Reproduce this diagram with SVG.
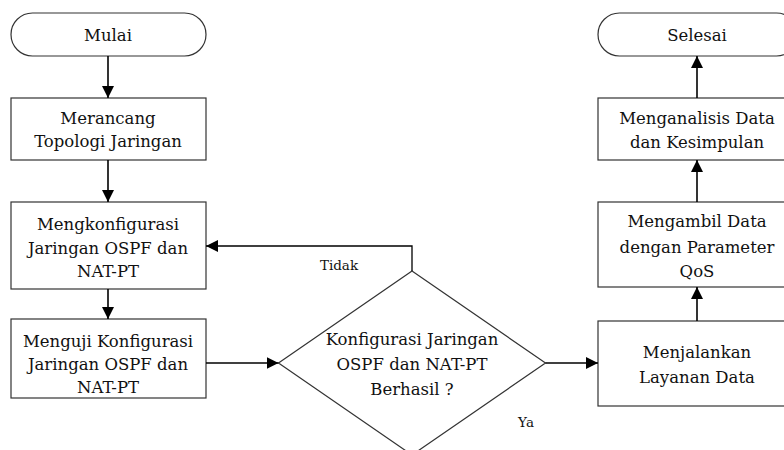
<svg xmlns="http://www.w3.org/2000/svg" width="784" height="450" viewBox="0 0 784 450" font-family="DejaVu Serif, serif">
<style>
.box{fill:#fff;stroke:#333;stroke-width:1.2}
.t{font-size:16.5px;fill:#111;text-anchor:middle}
.l{font-size:13.5px;fill:#111;text-anchor:middle}
.c{fill:none;stroke:#000;stroke-width:1.6}
</style>
<defs>
<marker id="a" markerUnits="userSpaceOnUse" markerWidth="12" markerHeight="12" viewBox="0 0 12 12" refX="12" refY="6" orient="auto">
<path d="M0,0 L12,6 L0,12 z" fill="#000"/>
</marker>
</defs>
<rect width="784" height="450" fill="#fff"/>
<g id="mulai"><rect class="box" x="11" y="13" width="195" height="43" rx="21.5"/><text class="t" x="108" y="41">Mulai</text></g>
<g id="merancang"><rect class="box" x="11" y="98" width="195" height="62"/><text class="t" x="108" y="124">Merancang</text><text class="t" x="108" y="147">Topologi Jaringan</text></g>
<g id="mengkonfigurasi"><rect class="box" x="11" y="202" width="195" height="87"/><text class="t" x="108" y="230">Mengkonfigurasi</text><text class="t" x="108" y="253.5">Jaringan OSPF dan</text><text class="t" x="108" y="277">NAT-PT</text></g>
<g id="menguji"><rect class="box" x="11" y="319" width="195" height="79"/><text class="t" x="108" y="347">Menguji Konfigurasi</text><text class="t" x="108" y="370">Jaringan OSPF dan</text><text class="t" x="108" y="393">NAT-PT</text></g>
<g id="keputusan"><polygon class="box" points="412,271 545.5,363 412,455 278.5,363"/><text class="t" x="412" y="345">Konfigurasi Jaringan</text><text class="t" x="412" y="370">OSPF dan NAT-PT</text><text class="t" x="412" y="395">Berhasil ?</text></g>
<g id="selesai"><rect class="box" x="598" y="13" width="200" height="43" rx="21.5"/><text class="t" x="697" y="41">Selesai</text></g>
<g id="menganalisis"><rect class="box" x="598" y="98" width="200" height="62"/><text class="t" x="697" y="124">Menganalisis Data</text><text class="t" x="697" y="148">dan Kesimpulan</text></g>
<g id="mengambil"><rect class="box" x="598" y="202" width="200" height="85"/><text class="t" x="697" y="227">Mengambil Data</text><text class="t" x="697" y="253">dengan Parameter</text><text class="t" x="697" y="277">QoS</text></g>
<g id="menjalankan"><rect class="box" x="598" y="321" width="200" height="85"/><text class="t" x="697" y="358">Menjalankan</text><text class="t" x="697" y="383">Layanan Data</text></g>
<g id="connectors">
<line class="c" x1="108" y1="56" x2="108" y2="98" marker-end="url(#a)"/>
<line class="c" x1="108" y1="160" x2="108" y2="202" marker-end="url(#a)"/>
<line class="c" x1="108" y1="289" x2="108" y2="319" marker-end="url(#a)"/>
<line class="c" x1="206" y1="363" x2="278.5" y2="363" marker-end="url(#a)"/>
<polyline class="c" style="stroke-width:1.3" points="412,271 412,246 206,246" marker-end="url(#a)"/>
<line class="c" x1="545.5" y1="363" x2="598" y2="363" marker-end="url(#a)"/>
<line class="c" x1="697" y1="321" x2="697" y2="287" marker-end="url(#a)"/>
<line class="c" x1="697" y1="202" x2="697" y2="160" marker-end="url(#a)"/>
<line class="c" x1="697" y1="98" x2="697" y2="56" marker-end="url(#a)"/>
<text class="l" x="339" y="270">Tidak</text>
<text class="l" x="526" y="427">Ya</text>
</g>
</svg>
